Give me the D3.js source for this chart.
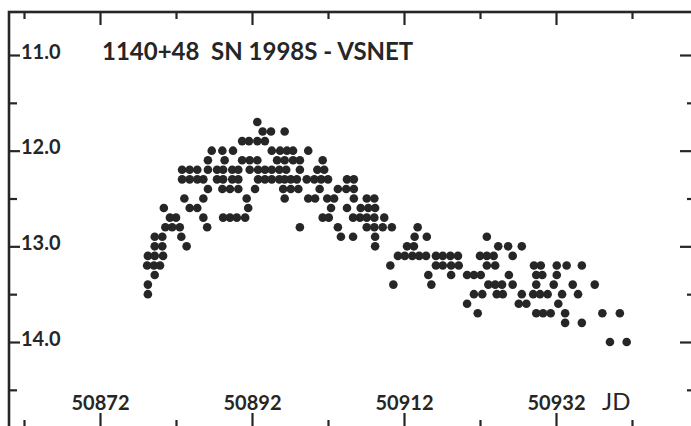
<!DOCTYPE html>
<html>
<head>
<meta charset="utf-8">
<script src="https://d3js.org/d3.v7.min.js"></script>
<style>
  html, body { margin: 0; padding: 0; background: #fff; }
  svg { display: block; }
  .tick text { font-family: Lato, "Open Sans", sans-serif; font-weight: 700; fill: #262626; }
</style>
</head>
<body>
<div id="chart"></div>
<script>
// SN 1998S light curve, VSNET visual estimates, grouped by magnitude row
const rowMags = [11.7, 11.8, 11.9, 12.0, 12.1, 12.2, 12.3, 12.4, 12.5, 12.6, 12.7, 12.8,
  12.9, 13.0, 13.1, 13.2, 13.3, 13.4, 13.5, 13.6, 13.7, 13.8, 14.0];

const rowDates = [
  [50892.7],
  [50893.4, 50894.5, 50896.3],
  [50890.7, 50891.6, 50892.7, 50893.7],
  [50886.7, 50888.1, 50889.5, 50894.6, 50895.7, 50896.6, 50897.4, 50899.4],
  [50886.2, 50888.4, 50890.7, 50891.7, 50892.7, 50895.3, 50896.3, 50897.4, 50898.3, 50901.3],
  [50882.8, 50883.8, 50884.8, 50886.2, 50887.4, 50888.2, 50889.4, 50890.2, 50891.7, 50892.8,
    50893.7, 50894.6, 50895.6, 50896.5, 50898.3, 50900.6, 50901.5],
  [50882.8, 50883.8, 50884.8, 50885.6, 50887.4, 50888.2, 50889.4, 50890.2, 50892.8, 50893.7,
    50894.6, 50895.6, 50896.3, 50897.1, 50897.9, 50899.2, 50900.2, 50901.1, 50902.0, 50904.5, 50905.4],
  [50886.2, 50888.1, 50889.1, 50890.2, 50892.4, 50896.1, 50897.1, 50898.1, 50900.9, 50903.3,
    50904.4, 50905.4],
  [50883.1, 50885.6, 50891.3, 50896.3, 50899.4, 50900.3, 50901.9, 50902.8, 50905.4, 50907.1, 50908.1],
  [50880.4, 50883.8, 50884.8, 50891.5, 50902.4, 50904.5, 50906.3, 50907.3, 50908.2],
  [50881.2, 50882.0, 50885.6, 50888.2, 50889.1, 50890.0, 50891.1, 50901.3, 50902.1, 50905.3,
    50906.2, 50907.1, 50908.1, 50909.4],
  [50880.6, 50881.5, 50882.5, 50886.1, 50898.3, 50903.3, 50907.1, 50908.1, 50909.2, 50910.4, 50913.8],
  [50879.2, 50880.2, 50882.7, 50903.7, 50905.3, 50908.2, 50913.4, 50915.0, 50922.9],
  [50879.2, 50880.2, 50883.4, 50908.2, 50912.4, 50913.3, 50924.4, 50925.7, 50927.5],
  [50878.3, 50879.2, 50880.3, 50911.2, 50912.1, 50913.1, 50914.0, 50914.9, 50916.2, 50917.1,
    50918.1, 50919.1, 50922.0, 50922.9, 50923.8, 50926.3],
  [50878.2, 50879.1, 50879.9, 50910.2, 50916.2, 50917.1, 50918.2, 50919.2, 50922.9, 50924.0,
    50929.1, 50930.0, 50932.1, 50933.4, 50935.4],
  [50879.2, 50915.2, 50918.2, 50920.3, 50921.2, 50922.1, 50925.8, 50929.4, 50930.2, 50932.1],
  [50878.3, 50910.6, 50915.6, 50923.1, 50924.0, 50924.9, 50926.3, 50929.4, 50931.7, 50934.2, 50937.1],
  [50878.3, 50921.2, 50922.3, 50924.2, 50925.0, 50927.5, 50929.0, 50929.9, 50930.9, 50932.8, 50934.9],
  [50920.3, 50927.1, 50928.1, 50932.3],
  [50921.7, 50929.4, 50930.3, 50931.3, 50933.2, 50938.1, 50940.4],
  [50933.2, 50935.4],
  [50939.1, 50941.3]
];

const jdMajor = [50872, 50892, 50912, 50932];
const jdMinor = [50862, 50882, 50902, 50922, 50942];
const magMajor = [11, 12, 13, 14];
const magMinor = [11.5, 12.5, 13.5, 14.5];

const title = "1140+48  SN 1998S - VSNET";

let width = 691, height = 426;
// right and bottom edges of the frame sit just past the page, as in the scan
let frame = { left: 9, top: 12, right: 695, bottom: 428 };
let ink = "#262626";

let svg = d3.select("#chart")
  .append("svg")
  .attr("width", width)
  .attr("height", height)
  .attr("viewBox", "0 0 " + width + " " + height);

svg.append("rect")
  .attr("width", width)
  .attr("height", height)
  .attr("fill", "#fff");

let x = d3.scaleLinear()
  .domain([50872, 50932])
  .range([100, 556]);

let y = d3.scaleLinear()
  .domain([11, 14])
  .range([55, 342]);

// flatten rows into points
let points = [];
rowMags.forEach((m, i) => {
  rowDates[i].forEach(jd => points.push({ jd: jd, mag: m }));
});

svg.append("rect")
  .attr("x", frame.left)
  .attr("y", frame.top)
  .attr("width", frame.right - frame.left)
  .attr("height", frame.bottom - frame.top)
  .attr("fill", "none")
  .attr("stroke", ink)
  .attr("stroke-width", 2.6);

let styleAxis = (g) => {
  g.select(".domain").remove();
  g.selectAll(".tick line").attr("stroke", ink).attr("stroke-width", 2.2);
};

// bottom: labelled long ticks and short ticks, pointing up
svg.append("g")
  .attr("transform", "translate(0," + frame.bottom + ")")
  .call(d3.axisTop(x).tickValues(jdMajor).tickSize(15).tickPadding(3).tickFormat(d3.format("d")))
  .call(styleAxis)
  .selectAll("text")
    .attr("font-size", 20);

svg.append("g")
  .attr("transform", "translate(0," + frame.bottom + ")")
  .call(d3.axisTop(x).tickValues(jdMinor).tickSize(8).tickFormat(""))
  .call(styleAxis);

// top: ticks pointing down
svg.append("g")
  .attr("transform", "translate(0," + frame.top + ")")
  .call(d3.axisBottom(x).tickValues(jdMajor).tickSize(13).tickFormat(""))
  .call(styleAxis);

svg.append("g")
  .attr("transform", "translate(0," + frame.top + ")")
  .call(d3.axisBottom(x).tickValues(jdMinor).tickSize(7).tickFormat(""))
  .call(styleAxis);

// left: magnitudes, ticks pointing in
svg.append("g")
  .attr("transform", "translate(" + frame.left + ",0)")
  .call(d3.axisRight(y).tickValues(magMajor).tickSize(11).tickPadding(1).tickFormat(d3.format(".1f")))
  .call(styleAxis)
  .selectAll("text")
    .attr("font-size", 20)
    .attr("dy", "0.16em");

svg.append("g")
  .attr("transform", "translate(" + frame.left + ",0)")
  .call(d3.axisRight(y).tickValues(magMinor).tickSize(8).tickFormat(""))
  .call(styleAxis);

// right: ticks pointing in
svg.append("g")
  .attr("transform", "translate(" + frame.right + ",0)")
  .call(d3.axisLeft(y).tickValues(magMajor).tickSize(15).tickFormat(""))
  .call(styleAxis);

svg.append("g")
  .attr("transform", "translate(" + frame.right + ",0)")
  .call(d3.axisLeft(y).tickValues(magMinor).tickSize(8).tickFormat(""))
  .call(styleAxis);

svg.append("g")
  .selectAll("circle")
  .data(points)
  .enter().append("circle")
    .attr("cx", d => x(d.jd))
    .attr("cy", d => y(d.mag))
    .attr("r", 4.3)
    .attr("fill", ink);

svg.append("text")
  .attr("x", 102)
  .attr("y", 60)
  .attr("font-family", "Lato, 'Open Sans', sans-serif")
  .attr("font-weight", "700")
  .attr("font-size", 24)
  .attr("fill", ink)
  .attr("xml:space", "preserve")
  .style("white-space", "pre")
  .text(title);

svg.append("text")
  .attr("x", 602)
  .attr("y", 410)
  .attr("font-family", "Lato, 'Open Sans', sans-serif")
  .attr("font-size", 24)
  .attr("fill", ink)
  .text("JD");
</script>
</body>
</html>
